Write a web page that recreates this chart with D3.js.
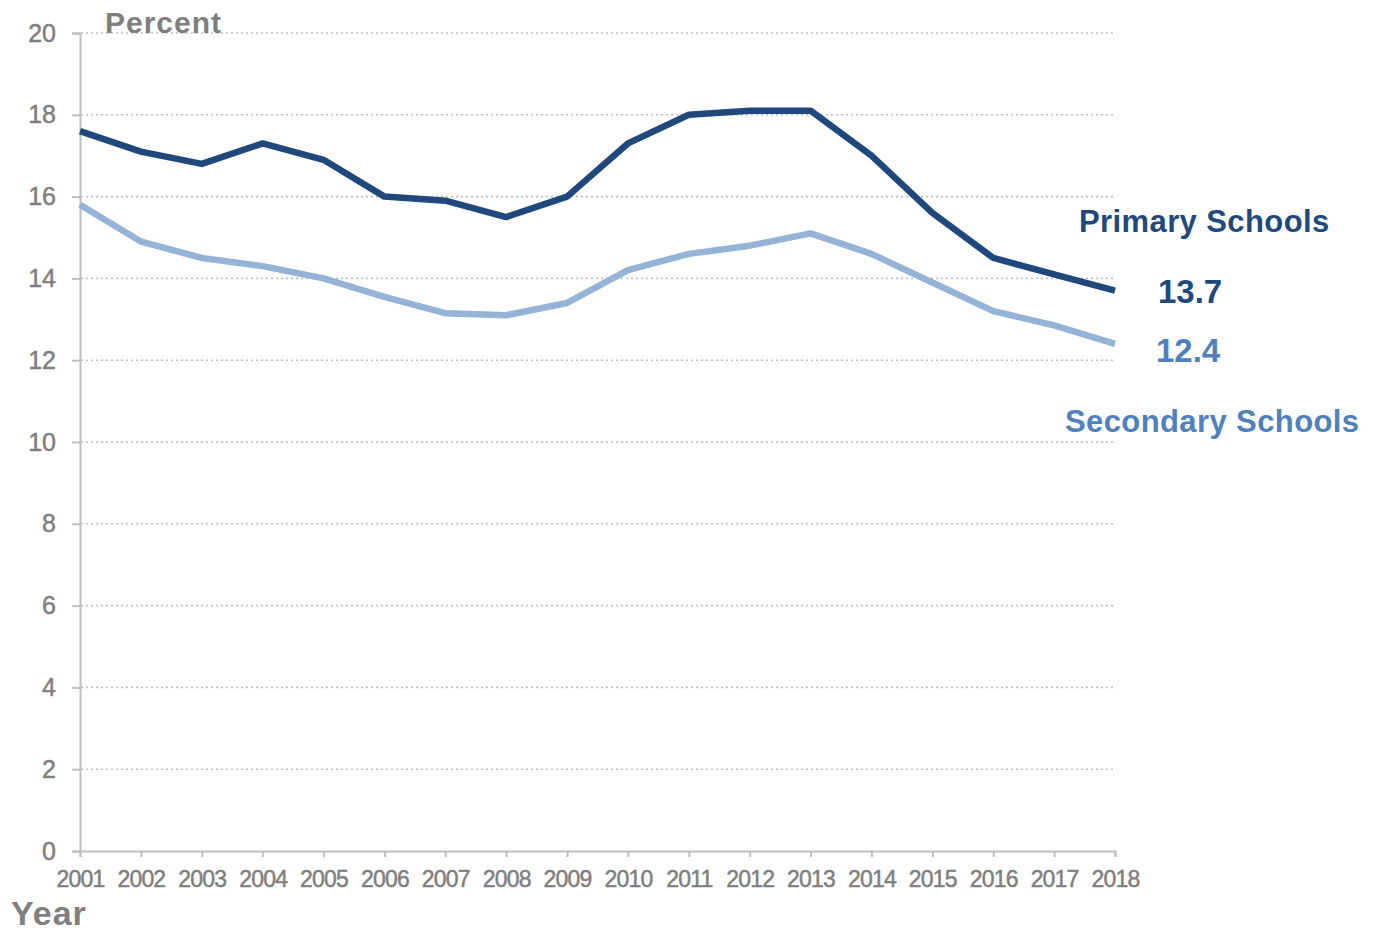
<!DOCTYPE html>
<html>
<head>
<meta charset="utf-8">
<script src="https://cdn.jsdelivr.net/npm/d3@7"></script>
<style>
  html, body { margin: 0; padding: 0; background: #fff; }
  svg { display: block; font-family: "Liberation Sans", Arial, sans-serif; }
</style>
</head>
<body>
<svg id="chart" width="1378" height="932"></svg>
<script>
const years = [2001,2002,2003,2004,2005,2006,2007,2008,2009,2010,2011,2012,2013,2014,2015,2016,2017,2018];
const primary = [17.6,17.1,16.8,17.3,16.9,16.0,15.9,15.5,16.0,17.3,18.0,18.1,18.1,17.0,15.6,14.5,14.1,13.7];
const secondary = [15.8,14.9,14.5,14.3,14.0,13.55,13.15,13.1,13.4,14.2,14.6,14.8,15.1,14.6,13.9,13.2,12.85,12.4];
const yTicks = [0,2,4,6,8,10,12,14,16,18,20];
const seriesNames = ["Primary Schools", "Secondary Schools"];

const svg = d3.select("#chart");
const x = d3.scaleLinear().domain([2001, 2018]).range([80, 1115]);
const y = d3.scaleLinear().domain([0, 20]).range([851, 33]);

const grey = "#7f7f7f";
const axisGrey = "#bfbfbf";
const cPrim = "#1f497d";
const cSecLine = "#95b3d7";
const cSecText = "#4f81bd";

// gridlines
svg.append("g").selectAll("line")
  .data(yTicks.filter(d => d > 0))
  .join("line")
  .attr("x1", 81).attr("x2", 1113)
  .attr("y1", d => y(d)).attr("y2", d => y(d))
  .attr("stroke", "#bfbfbf")
  .attr("stroke-width", 1.6)
  .attr("stroke-dasharray", "2,3");

// y axis
const yAxis = svg.append("g")
  .attr("transform", "translate(80,0)")
  .call(d3.axisLeft(y).tickValues(yTicks).tickSize(8).tickPadding(16).tickFormat(d3.format("d")));
yAxis.select(".domain").attr("stroke", axisGrey).attr("stroke-width", 2);
yAxis.selectAll(".tick line").attr("stroke", axisGrey).attr("stroke-width", 2);
yAxis.selectAll(".tick text").attr("fill", grey).style("font-size", "25px")
  .attr("stroke", grey).attr("stroke-width", 0.5);

// x axis
const xAxis = svg.append("g")
  .attr("transform", "translate(0,851)")
  .call(d3.axisBottom(x).tickValues(years).tickSize(6).tickPadding(14).tickFormat(d3.format("d")));
xAxis.select(".domain").attr("stroke", axisGrey).attr("stroke-width", 2);
xAxis.selectAll(".tick line").attr("stroke", axisGrey).attr("stroke-width", 2);
xAxis.selectAll(".tick text").attr("fill", grey).style("font-size", "23px")
  .attr("letter-spacing", "-0.8px").attr("stroke", grey).attr("stroke-width", 0.5);

// lines
const line = d3.line().x((d, i) => x(years[i])).y(d => y(d));
svg.append("path").datum(secondary)
  .attr("d", line).attr("fill", "none")
  .attr("stroke", cSecLine).attr("stroke-width", 6.5).attr("stroke-linejoin", "round");
svg.append("path").datum(primary)
  .attr("d", line).attr("fill", "none")
  .attr("stroke", cPrim).attr("stroke-width", 6.5).attr("stroke-linejoin", "round");

// axis titles
svg.append("text").attr("x", 105).attr("y", 33)
  .attr("fill", grey).attr("font-weight", "bold").style("font-size", "30px")
  .attr("letter-spacing", "1px").text("Percent");
svg.append("text").attr("x", 11).attr("y", 925)
  .attr("fill", grey).attr("font-weight", "bold").style("font-size", "34px")
  .attr("letter-spacing", "1px").text("Year");

// series labels
const lastP = primary[primary.length - 1];
const lastS = secondary[secondary.length - 1];
svg.append("text").attr("x", 1079).attr("y", 232)
  .attr("fill", cPrim).attr("font-weight", "bold").style("font-size", "31px")
  .attr("letter-spacing", "0.4px").text(seriesNames[0]);
svg.append("text").attr("x", 1158).attr("y", y(lastP) + 12)
  .attr("fill", cPrim).attr("font-weight", "bold").style("font-size", "33px")
  .text(lastP.toFixed(1));
svg.append("text").attr("x", 1156).attr("y", y(lastS) + 18)
  .attr("fill", cSecText).attr("font-weight", "bold").style("font-size", "33px")
  .text(lastS.toFixed(1));
svg.append("text").attr("x", 1065).attr("y", 432)
  .attr("fill", cSecText).attr("font-weight", "bold").style("font-size", "31px")
  .attr("letter-spacing", "0.4px").text(seriesNames[1]);
</script>
</body>
</html>
